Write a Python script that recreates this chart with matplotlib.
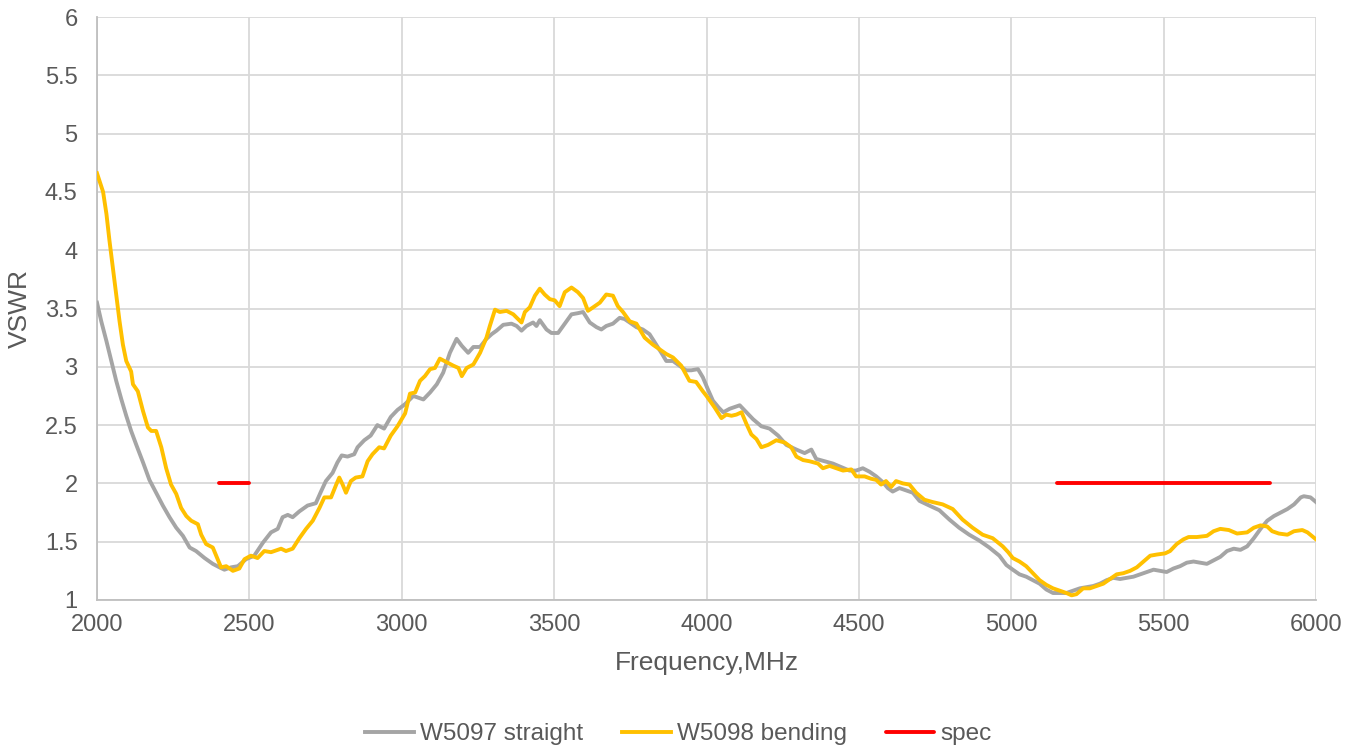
import matplotlib
matplotlib.use("Agg")
import matplotlib.pyplot as plt

# ---- data ----
straight_f = [2000, 2014, 2031, 2047, 2063, 2080, 2096, 2112, 2129, 2151, 2172, 2194, 2216, 2238, 2260,
              2282, 2304, 2325, 2353, 2380, 2402, 2418, 2440, 2462, 2489, 2516, 2544, 2571, 2593, 2609,
              2626, 2642, 2664, 2691, 2718, 2735, 2751, 2773, 2789, 2803, 2822, 2844, 2855, 2877, 2898,
              2920, 2942, 2964, 2986, 3011, 3038, 3071, 3093, 3115, 3136, 3158, 3180, 3197, 3218, 3235,
              3257, 3278, 3295, 3311, 3333, 3360, 3377, 3393, 3409, 3431, 3442, 3453, 3475, 3491, 3513,
              3535, 3557, 3578, 3595, 3617, 3639, 3655, 3671, 3693, 3715, 3731, 3748, 3770, 3791, 3813,
              3835, 3852, 3868, 3890, 3911, 3933, 3950, 3972, 3988, 4004, 4021, 4040, 4055, 4076, 4109,
              4131, 4153, 4180, 4207, 4235, 4262, 4295, 4322, 4344, 4360, 4388, 4415, 4442, 4469, 4491,
              4513, 4535, 4557, 4579, 4595, 4611, 4633, 4655, 4677, 4699, 4731, 4764, 4797, 4829, 4862,
              4895, 4928, 4961, 4984, 5005, 5027, 5049, 5071, 5093, 5115, 5137, 5159, 5181, 5203, 5225,
              5247, 5269, 5291, 5313, 5335, 5357, 5379, 5401, 5423, 5445, 5467, 5489, 5510, 5532, 5554,
              5576, 5598, 5620, 5642, 5664, 5686, 5708, 5730, 5752, 5774, 5796, 5818, 5840, 5862, 5884,
              5906, 5928, 5950, 5960, 5982, 6000]
straight_v = [3.55, 3.39, 3.22, 3.05, 2.88, 2.72, 2.58, 2.45, 2.33, 2.18, 2.03, 1.92, 1.81, 1.71, 1.62,
              1.55, 1.45, 1.42, 1.36, 1.31, 1.28, 1.26, 1.28, 1.29, 1.35, 1.38, 1.49, 1.58, 1.61, 1.71,
              1.73, 1.71, 1.76, 1.81, 1.83, 1.93, 2.02, 2.09, 2.18, 2.24, 2.23, 2.25, 2.31, 2.37, 2.41,
              2.50, 2.47, 2.57, 2.63, 2.68, 2.75, 2.72, 2.78, 2.85, 2.95, 3.12, 3.24, 3.18, 3.12, 3.17,
              3.17, 3.24, 3.28, 3.31, 3.36, 3.37, 3.35, 3.31, 3.35, 3.38, 3.35, 3.40, 3.32, 3.29, 3.29,
              3.37, 3.45, 3.46, 3.47, 3.38, 3.34, 3.32, 3.35, 3.37, 3.42, 3.41, 3.38, 3.34, 3.32, 3.28,
              3.19, 3.12, 3.05, 3.05, 3.01, 2.97, 2.97, 2.98, 2.91, 2.81, 2.71, 2.65, 2.61, 2.64, 2.67,
              2.61, 2.55, 2.49, 2.47, 2.41, 2.33, 2.29, 2.26, 2.29, 2.21, 2.19, 2.17, 2.14, 2.11, 2.11,
              2.13, 2.10, 2.06, 2.01, 1.96, 1.93, 1.96, 1.94, 1.92, 1.85, 1.81, 1.77, 1.69, 1.62, 1.56,
              1.51, 1.45, 1.38, 1.30, 1.26, 1.22, 1.20, 1.17, 1.14, 1.09, 1.06, 1.06, 1.06, 1.08, 1.10,
              1.11, 1.12, 1.14, 1.17, 1.19, 1.18, 1.19, 1.20, 1.22, 1.24, 1.26, 1.25, 1.24, 1.27, 1.29,
              1.32, 1.33, 1.32, 1.31, 1.34, 1.37, 1.42, 1.44, 1.43, 1.46, 1.53, 1.61, 1.68, 1.72, 1.75,
              1.78, 1.82, 1.88, 1.89, 1.88, 1.84]

bending_f = [2000, 2020, 2031, 2041, 2052, 2063, 2074, 2085, 2096, 2112, 2118, 2134, 2151, 2167, 2178,
             2194, 2211, 2227, 2243, 2260, 2276, 2293, 2309, 2331, 2342, 2358, 2380, 2391, 2407, 2424,
             2446, 2467, 2484, 2505, 2527, 2549, 2571, 2604, 2620, 2642, 2664, 2686, 2708, 2730, 2746,
             2768, 2785, 2795, 2806, 2817, 2833, 2849, 2871, 2888, 2904, 2926, 2942, 2964, 2986, 3011,
             3027, 3044, 3060, 3076, 3093, 3109, 3125, 3147, 3169, 3186, 3197, 3213, 3235, 3257, 3278,
             3289, 3306, 3322, 3344, 3366, 3393, 3404, 3420, 3437, 3453, 3469, 3486, 3502, 3518, 3535,
             3557, 3578, 3595, 3611, 3628, 3650, 3671, 3693, 3709, 3726, 3748, 3770, 3797, 3824, 3846,
             3868, 3890, 3917, 3944, 3966, 3988, 4000, 4027, 4049, 4065, 4082, 4098, 4115, 4131, 4147,
             4164, 4180, 4202, 4229, 4257, 4278, 4295, 4317, 4338, 4366, 4382, 4404, 4426, 4448, 4475,
             4491, 4519, 4540, 4557, 4573, 4589, 4606, 4622, 4644, 4666, 4688, 4715, 4742, 4775, 4808,
             4840, 4873, 4906, 4939, 4972, 4990, 5005, 5027, 5049, 5071, 5093, 5115, 5137, 5159, 5181,
             5198, 5214, 5236, 5258, 5280, 5302, 5324, 5346, 5368, 5390, 5412, 5434, 5456, 5478, 5505,
             5521, 5543, 5565, 5582, 5609, 5642, 5664, 5686, 5714, 5741, 5774, 5796, 5818, 5840, 5856,
             5878, 5906, 5928, 5955, 5972, 6000]
bending_v = [4.66, 4.50, 4.31, 4.08, 3.85, 3.62, 3.39, 3.19, 3.05, 2.96, 2.85, 2.79, 2.62, 2.48, 2.45,
             2.45, 2.31, 2.13, 1.99, 1.91, 1.79, 1.72, 1.68, 1.65, 1.56, 1.48, 1.45, 1.38, 1.28, 1.29,
             1.25, 1.27, 1.35, 1.38, 1.36, 1.42, 1.41, 1.44, 1.42, 1.44, 1.53, 1.61, 1.68, 1.79, 1.88,
             1.88, 1.99, 2.05, 1.99, 1.92, 2.02, 2.05, 2.06, 2.19, 2.25, 2.31, 2.30, 2.41, 2.49, 2.60,
             2.77, 2.78, 2.88, 2.92, 2.98, 2.99, 3.07, 3.04, 3.01, 2.99, 2.92, 2.99, 3.02, 3.12, 3.25,
             3.35, 3.49, 3.47, 3.48, 3.45, 3.38, 3.47, 3.51, 3.61, 3.67, 3.62, 3.58, 3.57, 3.52, 3.64,
             3.68, 3.64, 3.59, 3.48, 3.51, 3.55, 3.62, 3.61, 3.52, 3.47, 3.39, 3.37, 3.25, 3.19, 3.15,
             3.11, 3.08, 3.01, 2.88, 2.87, 2.79, 2.75, 2.65, 2.56, 2.59, 2.58, 2.59, 2.61, 2.51, 2.42,
             2.38, 2.31, 2.33, 2.37, 2.35, 2.31, 2.23, 2.20, 2.19, 2.17, 2.13, 2.15, 2.13, 2.11, 2.12,
             2.06, 2.06, 2.04, 2.03, 1.99, 2.02, 1.97, 2.02, 2.00, 1.99, 1.92, 1.86, 1.84, 1.82, 1.78,
             1.69, 1.62, 1.56, 1.53, 1.46, 1.41, 1.36, 1.33, 1.29, 1.23, 1.17, 1.13, 1.10, 1.08, 1.06,
             1.04, 1.05, 1.10, 1.10, 1.12, 1.14, 1.18, 1.22, 1.23, 1.25, 1.28, 1.33, 1.38, 1.39, 1.40,
             1.42, 1.48, 1.52, 1.54, 1.54, 1.55, 1.59, 1.61, 1.60, 1.57, 1.58, 1.62, 1.64, 1.63, 1.59,
             1.57, 1.56, 1.59, 1.60, 1.58, 1.52]

spec_low_f = [2400, 2500]
spec_high_f = [5150, 5850]
spec_v = [2, 2]

x_ticks = [2000, 2500, 3000, 3500, 4000, 4500, 5000, 5500, 6000]
y_ticks = [1, 1.5, 2, 2.5, 3, 3.5, 4, 4.5, 5, 5.5, 6]
y_tick_labels = ["1", "1.5", "2", "2.5", "3", "3.5", "4", "4.5", "5", "5.5", "6"]

# ---- plot ----
plt.rcParams['font.family'] = ['Liberation Sans', 'DejaVu Sans']
txt = '#595959'
fig = plt.figure(figsize=(13.57, 7.49), dpi=100)
ax = fig.add_axes([97/1357, 1-600/749, (1316-97)/1357, (600-17)/749])

ax.plot(straight_f, straight_v, color='#A5A5A5', lw=2.8, label='W5097 straight',
        solid_joinstyle='round', zorder=3)
ax.plot(bending_f, bending_v, color='#FFC000', lw=2.8, label='W5098 bending',
        solid_joinstyle='round', zorder=4)
ax.plot(spec_low_f, spec_v, color='#FF0000', lw=2.8, label='spec', solid_capstyle='round', zorder=5)
ax.plot(spec_high_f, spec_v, color='#FF0000', lw=2.8, solid_capstyle='round', zorder=5)

ax.set_xlim(2000, 6000)
ax.set_ylim(1, 6)
ax.set_xticks(x_ticks)
ax.set_xticklabels([str(t) for t in x_ticks])
ax.set_yticks(y_ticks)
ax.set_yticklabels(y_tick_labels)
ax.grid(True, color='#D9D9D9', lw=1.3, zorder=0)
ax.set_axisbelow(True)
for s in ['top', 'right']:
    ax.spines[s].set_visible(False)
for s in ['left', 'bottom']:
    ax.spines[s].set_color('#BFBFBF')
    ax.spines[s].set_linewidth(1.3)
ax.tick_params(length=0, labelsize=17, colors=txt)
ax.tick_params(axis='x', pad=10)
ax.tick_params(axis='y', pad=14)
ax.set_xlabel('Frequency,MHz', fontsize=19, color=txt, labelpad=11)
ax.set_ylabel('VSWR', fontsize=19, color=txt, labelpad=9)

fig.legend(loc='center', bbox_to_anchor=(0.5, 1-734/749), ncol=3, frameon=False,
           fontsize=17.5, labelcolor=txt, handlelength=2.0, handletextpad=0.25, columnspacing=1.6)

fig.savefig('out.png', dpi=100)
